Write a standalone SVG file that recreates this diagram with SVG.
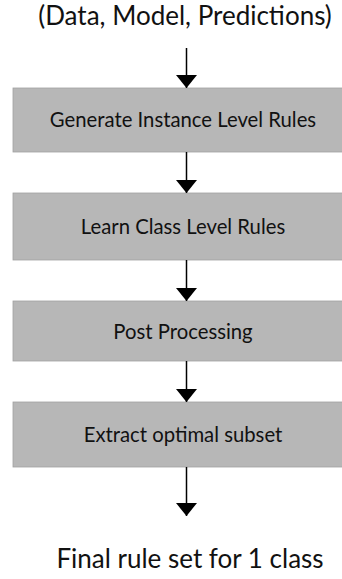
<svg xmlns="http://www.w3.org/2000/svg" width="342" height="579" viewBox="0 0 342 579">
<defs>
<style>
.box{fill:#b7b7b7;stroke:#a0a0a0;stroke-width:0.8}
.lbl{font-family:Lato,"Liberation Sans",sans-serif;font-size:20.3px;fill:#111;text-anchor:middle}
.big{font-family:Lato,"Liberation Sans",sans-serif;font-size:26px;fill:#111;text-anchor:middle}
.edge{stroke:#000;stroke-width:1.5;fill:none}
</style>
<marker id="ah" viewBox="0 0 13 21" refX="13" refY="10.5" markerWidth="13" markerHeight="21" markerUnits="userSpaceOnUse" orient="auto">
<path d="M0,0 L13,10.5 L0,21 z" fill="#000"/>
</marker>
</defs>
<g id="input"><text class="big" x="185" y="25">(Data, Model, Predictions)</text></g>
<g id="n1"><rect class="box" x="13" y="88" width="340" height="64"/><text class="lbl" x="183" y="127">Generate Instance Level Rules</text></g>
<g id="n2"><rect class="box" x="13" y="193" width="340" height="67"/><text class="lbl" x="183" y="234">Learn Class Level Rules</text></g>
<g id="n3"><rect class="box" x="13" y="301" width="340" height="60"/><text class="lbl" x="183" y="339">Post Processing</text></g>
<g id="n4"><rect class="box" x="13" y="402" width="340" height="65"/><text class="lbl" x="183" y="442">Extract optimal subset</text></g>
<g id="output"><text class="big" x="190" y="568">Final rule set for 1 class</text></g>
<g id="edges">
<line class="edge" x1="186.5" y1="48" x2="186.5" y2="88" marker-end="url(#ah)"/>
<line class="edge" x1="186.5" y1="152" x2="186.5" y2="193" marker-end="url(#ah)"/>
<line class="edge" x1="186.5" y1="260" x2="186.5" y2="301" marker-end="url(#ah)"/>
<line class="edge" x1="186.5" y1="361" x2="186.5" y2="402" marker-end="url(#ah)"/>
<line class="edge" x1="186.5" y1="467" x2="186.5" y2="516" marker-end="url(#ah)"/>
</g>
</svg>
